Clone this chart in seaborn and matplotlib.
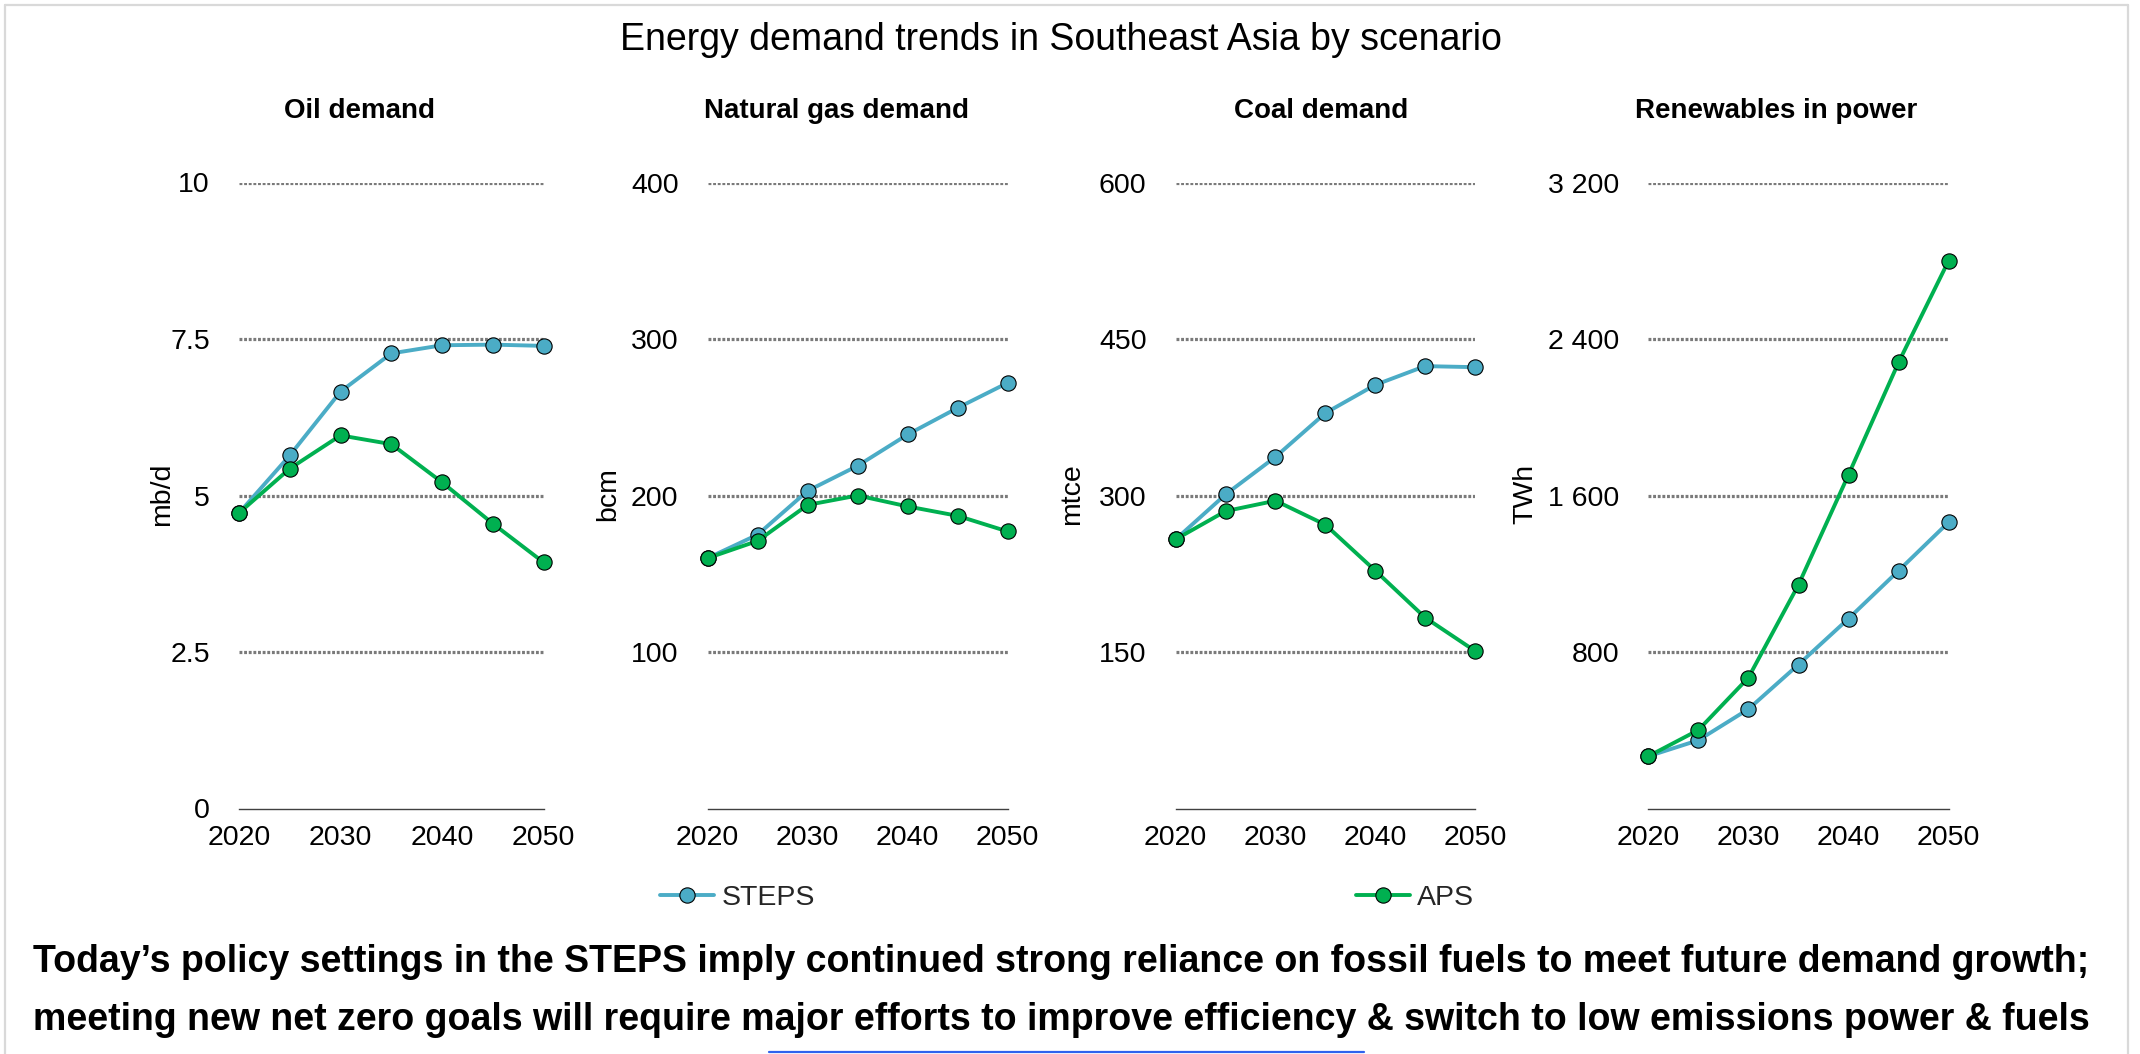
import numpy as np
import pandas as pd
import matplotlib
matplotlib.use("Agg")
import matplotlib.pyplot as plt
import seaborn as sns

# ---- data -------------------------------------------------------------
years = [2020, 2025, 2030, 2035, 2040, 2045, 2050]

oil_steps = [4.72, 5.64, 6.66, 7.27, 7.40, 7.41, 7.39]
oil_aps = [4.72, 5.43, 5.96, 5.82, 5.21, 4.55, 3.93]
gas_steps = [160, 175, 203, 219, 239, 256, 272]
gas_aps = [160, 171, 194, 200, 193, 187, 177]
coal_steps = [258, 301, 337, 379, 406, 424, 423]
coal_aps = [258, 285, 295, 272, 228, 183, 151]
ren_steps = [267, 349, 508, 736, 971, 1216, 1464]
ren_aps = [267, 401, 669, 1144, 1707, 2281, 2801]

scenarios = ["STEPS", "APS"]
panel_titles = ["Oil demand", "Natural gas demand", "Coal demand", "Renewables in power"]
units = ["mb/d", "bcm", "mtce", "TWh"]
y_ticks = [[0, 2.5, 5, 7.5, 10], [100, 200, 300, 400],
           [150, 300, 450, 600], [800, 1600, 2400, 3200]]
y_tick_labels = [["0", "2.5", "5", "7.5", "10"], ["100", "200", "300", "400"],
                 ["150", "300", "450", "600"], ["800", "1 600", "2 400", "3 200"]]
x_ticks = [2020, 2030, 2040, 2050]

main_title = "Energy demand trends in Southeast Asia by scenario"
caption_1 = ("Today\u2019s policy settings in the STEPS imply continued strong reliance "
             "on fossil fuels to meet future demand growth;")
caption_2 = ("meeting new net zero goals will require major efforts to improve "
             "efficiency & switch to low emissions power & fuels")

series = {
    panel_titles[0]: (oil_steps, oil_aps),
    panel_titles[1]: (gas_steps, gas_aps),
    panel_titles[2]: (coal_steps, coal_aps),
    panel_titles[3]: (ren_steps, ren_aps),
}
rows = []
for panel, (steps, aps) in series.items():
    for scen, vals in zip(scenarios, (steps, aps)):
        for yr, v in zip(years, vals):
            rows.append({"panel": panel, "scenario": scen, "year": yr, "value": v})
df = pd.DataFrame(rows)

palette = {"STEPS": "#4BACC6", "APS": "#00B050"}

# ---- styling ----------------------------------------------------------
sns.set_theme(style="white")
plt.rcParams["font.family"] = ["Liberation Sans", "DejaVu Sans"]
plt.rcParams["axes.unicode_minus"] = False

W, H = 2140, 1054
fig = plt.figure(figsize=(W / 100, H / 100), dpi=100)
fig.patch.set_facecolor("white")


def fx(px):
    return px / W


def fy(py):
    return 1 - py / H


ax_left = [239, 707.7, 1175.7, 1648.3]
ax_right = [543.7, 1007.7, 1475, 1948.7]
ax_top, ax_bottom = 182.5, 808.5
title_x = [359, 836, 1321, 1776]
ylabel_x = [161.7, 608, 1071.7, 1525]

handles = None
for i, panel in enumerate(panel_titles):
    ax = fig.add_axes([fx(ax_left[i]), fy(ax_bottom),
                       (ax_right[i] - ax_left[i]) / W, (ax_bottom - ax_top) / H])
    sub = df[df["panel"] == panel]

    # dotted value gridlines (the zero line is the solid axis)
    for t in y_ticks[i]:
        if t > 0:
            ax.axhline(t, color="#7a7a7a", linewidth=2.3,
                       linestyle=(0, (0.9, 0.55)), dash_capstyle="butt", zorder=0.5)

    sns.lineplot(data=sub, x="year", y="value", hue="scenario",
                 hue_order=scenarios, palette=palette, marker="o",
                 markersize=11, markeredgecolor="black", markeredgewidth=0.8,
                 linewidth=2.8, ax=ax, legend=False)
    series_lines = [ln for ln in ax.lines if ln.get_marker() == "o"]
    for ln in series_lines:
        ln.set_clip_on(False)
        ln.set_zorder(3)
    if handles is None:
        handles = series_lines

    top = y_ticks[i][-1]
    ax.set_xlim(2020, 2050)
    ax.set_ylim(0, top)
    ax.set_xticks(x_ticks)
    ax.set_xticklabels([str(t) for t in x_ticks])
    ax.set_yticks(y_ticks[i])
    ax.set_yticklabels(y_tick_labels[i])
    ax.tick_params(axis="both", length=0, labelsize=20.5, colors="black")
    ax.tick_params(axis="y", pad=21)
    ax.tick_params(axis="x", pad=12)
    ax.set_xlabel("")
    ax.set_ylabel("")
    ax.set_facecolor("none")
    ax.grid(False)
    for side in ["top", "right", "left"]:
        ax.spines[side].set_visible(False)
    ax.spines["bottom"].set_color("#404040")
    ax.spines["bottom"].set_linewidth(1.0)

    fig.text(fx(title_x[i]), fy(118), panel, ha="center", va="baseline",
             fontsize=20, fontweight="bold", color="black")
    fig.text(fx(ylabel_x[i]), fy(494), units[i], ha="center", va="center",
             rotation=90, fontsize=20.5, color="black")

# main title
fig.text(fx(1061), fy(50), main_title, ha="center", va="baseline",
         fontsize=27, color="black")

# legend, one entry under each half of the chart
for h, lab, x0 in zip(handles, scenarios, [660, 1356]):
    fig.legend([h], [lab], loc="center left",
               bbox_to_anchor=(fx(x0), fy(898)), frameon=False,
               fontsize=20.5, handlelength=1.9, handletextpad=0.25,
               borderpad=0, borderaxespad=0)

# caption
fig.text(fx(1061), fy(972), caption_1, ha="center", va="baseline",
         fontsize=27, fontweight="bold", color="black")
fig.text(fx(1061), fy(1030), caption_2, ha="center", va="baseline",
         fontsize=27, fontweight="bold", color="black")

# frame and link underline
frame_kw = dict(color="#d9d9d9", linewidth=1.6, transform=fig.transFigure)
fig.add_artist(plt.Line2D([fx(5), fx(2128)], [fy(5), fy(5)], **frame_kw))
fig.add_artist(plt.Line2D([fx(5), fx(5)], [fy(5), fy(1054)], **frame_kw))
fig.add_artist(plt.Line2D([fx(2128), fx(2128)], [fy(5), fy(1054)], **frame_kw))
fig.add_artist(plt.Line2D([fx(769), fx(1364)], [fy(1052), fy(1052)],
                          color="#2f62ee", linewidth=1.6,
                          transform=fig.transFigure))

fig.savefig("out.png", dpi=100, facecolor="white")
